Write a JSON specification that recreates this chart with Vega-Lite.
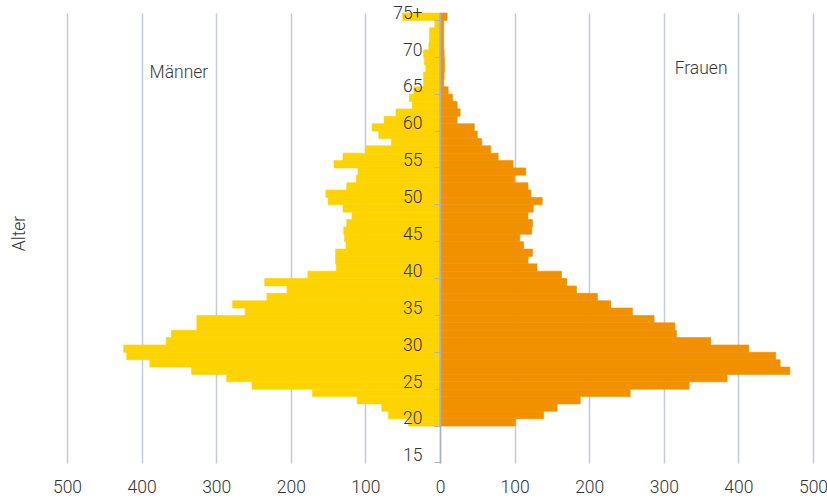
{
  "$schema": "https://vega.github.io/schema/vega-lite/v6.json",
  "width": 746,
  "height": 450,
  "autosize": "none",
  "padding": {"left": 67, "top": 13, "right": 14, "bottom": 36},
  "background": "white",
  "config": {
    "view": {"stroke": null},
    "font": "Roboto"
  },
  "datasets": {
    "bev": [
      {"alter": "20", "geschlecht": "Männer", "anzahl": 42},
      {"alter": "21", "geschlecht": "Männer", "anzahl": 69},
      {"alter": "22", "geschlecht": "Männer", "anzahl": 78},
      {"alter": "23", "geschlecht": "Männer", "anzahl": 111},
      {"alter": "24", "geschlecht": "Männer", "anzahl": 171},
      {"alter": "25", "geschlecht": "Männer", "anzahl": 252},
      {"alter": "26", "geschlecht": "Männer", "anzahl": 286},
      {"alter": "27", "geschlecht": "Männer", "anzahl": 333},
      {"alter": "28", "geschlecht": "Männer", "anzahl": 389},
      {"alter": "29", "geschlecht": "Männer", "anzahl": 420},
      {"alter": "30", "geschlecht": "Männer", "anzahl": 424},
      {"alter": "31", "geschlecht": "Männer", "anzahl": 367},
      {"alter": "32", "geschlecht": "Männer", "anzahl": 360},
      {"alter": "33", "geschlecht": "Männer", "anzahl": 326},
      {"alter": "34", "geschlecht": "Männer", "anzahl": 326},
      {"alter": "35", "geschlecht": "Männer", "anzahl": 261},
      {"alter": "36", "geschlecht": "Männer", "anzahl": 278},
      {"alter": "37", "geschlecht": "Männer", "anzahl": 232},
      {"alter": "38", "geschlecht": "Männer", "anzahl": 205},
      {"alter": "39", "geschlecht": "Männer", "anzahl": 235},
      {"alter": "40", "geschlecht": "Männer", "anzahl": 177},
      {"alter": "41", "geschlecht": "Männer", "anzahl": 139},
      {"alter": "42", "geschlecht": "Männer", "anzahl": 140},
      {"alter": "43", "geschlecht": "Männer", "anzahl": 140},
      {"alter": "44", "geschlecht": "Männer", "anzahl": 126},
      {"alter": "45", "geschlecht": "Männer", "anzahl": 128},
      {"alter": "46", "geschlecht": "Männer", "anzahl": 129},
      {"alter": "47", "geschlecht": "Männer", "anzahl": 125},
      {"alter": "48", "geschlecht": "Männer", "anzahl": 118},
      {"alter": "49", "geschlecht": "Männer", "anzahl": 130},
      {"alter": "50", "geschlecht": "Männer", "anzahl": 150},
      {"alter": "51", "geschlecht": "Männer", "anzahl": 153},
      {"alter": "52", "geschlecht": "Männer", "anzahl": 125},
      {"alter": "53", "geschlecht": "Männer", "anzahl": 112},
      {"alter": "54", "geschlecht": "Männer", "anzahl": 110},
      {"alter": "55", "geschlecht": "Männer", "anzahl": 142},
      {"alter": "56", "geschlecht": "Männer", "anzahl": 130},
      {"alter": "57", "geschlecht": "Männer", "anzahl": 99},
      {"alter": "58", "geschlecht": "Männer", "anzahl": 65},
      {"alter": "59", "geschlecht": "Männer", "anzahl": 82},
      {"alter": "60", "geschlecht": "Männer", "anzahl": 91},
      {"alter": "61", "geschlecht": "Männer", "anzahl": 75},
      {"alter": "62", "geschlecht": "Männer", "anzahl": 59},
      {"alter": "63", "geschlecht": "Männer", "anzahl": 37},
      {"alter": "64", "geschlecht": "Männer", "anzahl": 41},
      {"alter": "65", "geschlecht": "Männer", "anzahl": 35},
      {"alter": "66", "geschlecht": "Männer", "anzahl": 22},
      {"alter": "67", "geschlecht": "Männer", "anzahl": 22},
      {"alter": "68", "geschlecht": "Männer", "anzahl": 19},
      {"alter": "69", "geschlecht": "Männer", "anzahl": 21},
      {"alter": "70", "geschlecht": "Männer", "anzahl": 22},
      {"alter": "71", "geschlecht": "Männer", "anzahl": 15},
      {"alter": "72", "geschlecht": "Männer", "anzahl": 14},
      {"alter": "73", "geschlecht": "Männer", "anzahl": 14},
      {"alter": "74", "geschlecht": "Männer", "anzahl": 7},
      {"alter": "75+", "geschlecht": "Männer", "anzahl": 50},
      {"alter": "20", "geschlecht": "Frauen", "anzahl": 101},
      {"alter": "21", "geschlecht": "Frauen", "anzahl": 139},
      {"alter": "22", "geschlecht": "Frauen", "anzahl": 157},
      {"alter": "23", "geschlecht": "Frauen", "anzahl": 188},
      {"alter": "24", "geschlecht": "Frauen", "anzahl": 255},
      {"alter": "25", "geschlecht": "Frauen", "anzahl": 334},
      {"alter": "26", "geschlecht": "Frauen", "anzahl": 385},
      {"alter": "27", "geschlecht": "Frauen", "anzahl": 469},
      {"alter": "28", "geschlecht": "Frauen", "anzahl": 456},
      {"alter": "29", "geschlecht": "Frauen", "anzahl": 450},
      {"alter": "30", "geschlecht": "Frauen", "anzahl": 414},
      {"alter": "31", "geschlecht": "Frauen", "anzahl": 363},
      {"alter": "32", "geschlecht": "Frauen", "anzahl": 317},
      {"alter": "33", "geschlecht": "Frauen", "anzahl": 315},
      {"alter": "34", "geschlecht": "Frauen", "anzahl": 287},
      {"alter": "35", "geschlecht": "Frauen", "anzahl": 258},
      {"alter": "36", "geschlecht": "Frauen", "anzahl": 229},
      {"alter": "37", "geschlecht": "Frauen", "anzahl": 211},
      {"alter": "38", "geschlecht": "Frauen", "anzahl": 183},
      {"alter": "39", "geschlecht": "Frauen", "anzahl": 170},
      {"alter": "40", "geschlecht": "Frauen", "anzahl": 163},
      {"alter": "41", "geschlecht": "Frauen", "anzahl": 130},
      {"alter": "42", "geschlecht": "Frauen", "anzahl": 118},
      {"alter": "43", "geschlecht": "Frauen", "anzahl": 124},
      {"alter": "44", "geschlecht": "Frauen", "anzahl": 112},
      {"alter": "45", "geschlecht": "Frauen", "anzahl": 107},
      {"alter": "46", "geschlecht": "Frauen", "anzahl": 123},
      {"alter": "47", "geschlecht": "Frauen", "anzahl": 124},
      {"alter": "48", "geschlecht": "Frauen", "anzahl": 118},
      {"alter": "49", "geschlecht": "Frauen", "anzahl": 125},
      {"alter": "50", "geschlecht": "Frauen", "anzahl": 137},
      {"alter": "51", "geschlecht": "Frauen", "anzahl": 122},
      {"alter": "52", "geschlecht": "Frauen", "anzahl": 118},
      {"alter": "53", "geschlecht": "Frauen", "anzahl": 100},
      {"alter": "54", "geschlecht": "Frauen", "anzahl": 115},
      {"alter": "55", "geschlecht": "Frauen", "anzahl": 98},
      {"alter": "56", "geschlecht": "Frauen", "anzahl": 78},
      {"alter": "57", "geschlecht": "Frauen", "anzahl": 68},
      {"alter": "58", "geschlecht": "Frauen", "anzahl": 56},
      {"alter": "59", "geschlecht": "Frauen", "anzahl": 50},
      {"alter": "60", "geschlecht": "Frauen", "anzahl": 46},
      {"alter": "61", "geschlecht": "Frauen", "anzahl": 23},
      {"alter": "62", "geschlecht": "Frauen", "anzahl": 27},
      {"alter": "63", "geschlecht": "Frauen", "anzahl": 23},
      {"alter": "64", "geschlecht": "Frauen", "anzahl": 17},
      {"alter": "65", "geschlecht": "Frauen", "anzahl": 11},
      {"alter": "66", "geschlecht": "Frauen", "anzahl": 5},
      {"alter": "67", "geschlecht": "Frauen", "anzahl": 5.5},
      {"alter": "68", "geschlecht": "Frauen", "anzahl": 6},
      {"alter": "69", "geschlecht": "Frauen", "anzahl": 6},
      {"alter": "70", "geschlecht": "Frauen", "anzahl": 5.5},
      {"alter": "71", "geschlecht": "Frauen", "anzahl": 5},
      {"alter": "72", "geschlecht": "Frauen", "anzahl": 5},
      {"alter": "73", "geschlecht": "Frauen", "anzahl": 5},
      {"alter": "74", "geschlecht": "Frauen", "anzahl": 5},
      {"alter": "75+", "geschlecht": "Frauen", "anzahl": 9.6}
    ],
    "beschriftung_m": [{"text": "Männer", "anzahl": 350, "alter": "68"}],
    "beschriftung_f": [{"text": "Frauen", "anzahl": 350, "alter": "68"}]
  },
  "layer": [
    {
      "layer": [
        {
          "data": {"name": "bev"},
          "transform": [{"filter": "datum.geschlecht === 'Männer'"}],
          "mark": {"type": "bar", "strokeWidth": 0.6},
          "encoding": {
            "y": {"field": "alter", "type": "ordinal"},
            "x": {"field": "anzahl", "type": "quantitative", "scale": {"domain": [-500, 500], "reverse": true, "nice": false}, "axis": null},
            "color": {"field": "geschlecht", "type": "nominal", "scale": {"domain": ["Männer", "Frauen"], "range": ["#FDD300", "#F29100"]}, "legend": null},
            "stroke": {"field": "geschlecht", "type": "nominal", "scale": {"domain": ["Männer", "Frauen"], "range": ["#FDD300", "#F29100"]}, "legend": null}
          }
        },
        {
          "data": {"name": "beschriftung_m"},
          "mark": {"type": "text", "fontSize": 17.5, "fontWeight": 300, "color": "#3a3a3a", "dy": 5},
          "encoding": {
            "y": {"field": "alter", "type": "ordinal"},
            "x": {"field": "anzahl", "type": "quantitative"},
            "text": {"field": "text"}
          }
        }
      ]
    },
    {
      "layer": [
        {
          "data": {"name": "bev"},
          "transform": [{"filter": "datum.geschlecht === 'Frauen'"}],
          "mark": {"type": "bar", "strokeWidth": 0.6},
          "encoding": {
            "y": {
              "field": "alter",
              "type": "ordinal",
              "scale": {
                "domain": ["75+","74","73","72","71","70","69","68","67","66","65","64","63","62","61","60","59","58","57","56","55","54","53","52","51","50","49","48","47","46","45","44","43","42","41","40","39","38","37","36","35","34","33","32","31","30","29","28","27","26","25","24","23","22","21","20","19","18","17","16","15"],
                "paddingInner": 0,
                "paddingOuter": 0
              },
              "axis": {
                "title": "Alter",
                "offset": -373,
                "values": ["75+","70","65","60","55","50","45","40","35","30","25","20","15"],
                "bandPosition": 1,
                "tickSize": 6,
                "tickColor": "#aab0cc",
                "domainColor": "#aab0cc",
                "domainWidth": 1.5,
                "labelPadding": 12,
                "labelFontSize": 17.5,
                "labelFontWeight": 300,
                "labelColor": "#333333",
                "labelAngle": 0,
                "labelBaseline": "middle",
                "labelOffset": -3,
                "grid": false,
                "zindex": 1,
                "titleX": -416,
                "titleY": 220,
                "titleAngle": -90,
                "titleAlign": "center",
                "titleBaseline": "alphabetic",
                "titleFontSize": 17.5,
                "titleFontWeight": 300,
                "titleColor": "#333333"
              }
            },
            "x": {
              "field": "anzahl",
              "type": "quantitative",
              "scale": {"domain": [-500, 500], "nice": false},
              "axis": {
                "orient": "bottom",
                "title": null,
                "values": [-500, -400, -300, -200, -100, 0, 100, 200, 300, 400, 500],
                "labelExpr": "format(abs(datum.value), 'd')",
                "labelFlush": false,
                "labelOverlap": false,
                "grid": true,
                "gridColor": "#c5c9de",
                "gridWidth": 1.5,
                "ticks": false,
                "tickSize": 0,
                "domain": false,
                "labelPadding": 15,
                "labelFontSize": 17.5,
                "labelFontWeight": 300,
                "labelColor": "#333333",
                "zindex": 0
              }
            },
            "color": {"field": "geschlecht", "type": "nominal", "scale": {"domain": ["Männer", "Frauen"], "range": ["#FDD300", "#F29100"]}, "legend": null},
            "stroke": {"field": "geschlecht", "type": "nominal", "scale": {"domain": ["Männer", "Frauen"], "range": ["#FDD300", "#F29100"]}, "legend": null}
          }
        },
        {
          "data": {"name": "beschriftung_f"},
          "mark": {"type": "text", "fontSize": 17.5, "fontWeight": 300, "color": "#3a3a3a", "dy": 1},
          "encoding": {
            "y": {"field": "alter", "type": "ordinal"},
            "x": {"field": "anzahl", "type": "quantitative"},
            "text": {"field": "text"}
          }
        }
      ]
    }
  ],
  "resolve": {"scale": {"x": "independent"}}
}
